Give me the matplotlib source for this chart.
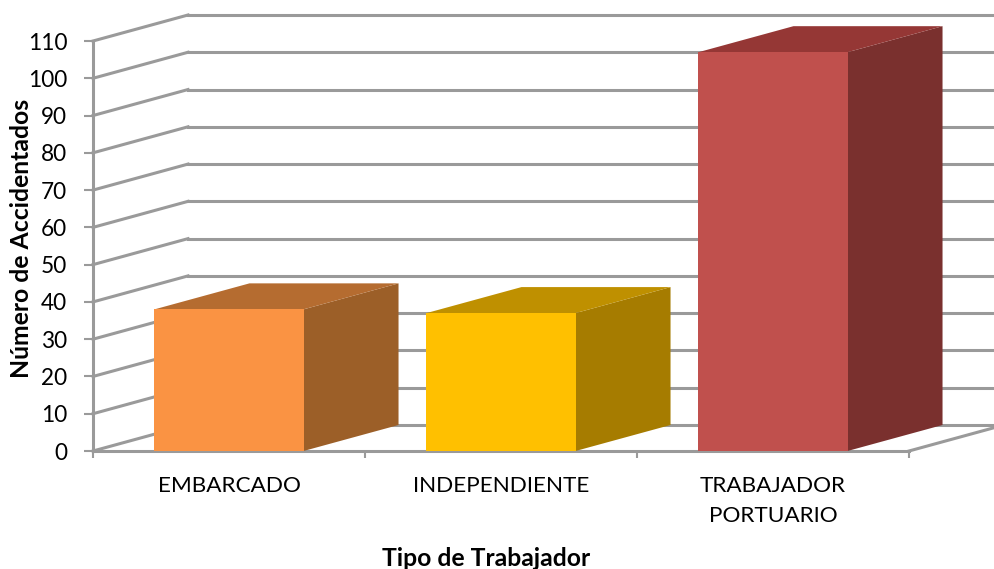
"""Fake-3D column chart of accident counts by worker type."""

import matplotlib
matplotlib.use("Agg")
import matplotlib.pyplot as plt
from matplotlib.patches import Polygon

categories = ["EMBARCADO", "INDEPENDIENTE", "TRABAJADOR\nPORTUARIO"]
values = [38, 37, 107]
y_ticks = list(range(0, 111, 10))
front_colors = ["#FA9343", "#FFC000", "#C0504D"]
top_colors = ["#B56C30", "#BF9000", "#953735"]
side_colors = ["#9C5F28", "#A67C00", "#7A302E"]

GRID = "#9A9A9A"
BAR_WIDTH = 0.548
DEPTH_X = 95 / 272  # category units
DEPTH_Y = 26 / 3.727  # value units

plt.rcParams["font.family"] = ["Lato", "DejaVu Sans"]

W, H = 994, 569
fig = plt.figure(figsize=(W / 100, H / 100), dpi=100)
ax = fig.add_axes([93 / W, 1 - 451 / H, 816 / W, 410 / H])
ax.set_xlim(0, 3)
ax.set_ylim(0, 110)
ax.patch.set_visible(False)

# back wall lines and their receding part on the side wall
for v in y_ticks:
    ax.plot([0, DEPTH_X], [v, v + DEPTH_Y], color=GRID, lw=2.2, clip_on=False, zorder=1)
    ax.plot([DEPTH_X, 3 + DEPTH_X], [v + DEPTH_Y, v + DEPTH_Y], color=GRID, lw=2.2,
            clip_on=False, zorder=1)
ax.plot([3, 3 + DEPTH_X], [0, DEPTH_Y], color=GRID, lw=2.2, clip_on=False, zorder=1)

for i, v in enumerate(values):
    x0 = i + 0.5 - BAR_WIDTH / 2
    x1 = i + 0.5 + BAR_WIDTH / 2
    front = [(x0, 0), (x1, 0), (x1, v), (x0, v)]
    top = [(x0, v), (x1, v), (x1 + DEPTH_X, v + DEPTH_Y), (x0 + DEPTH_X, v + DEPTH_Y)]
    side = [(x1, 0), (x1 + DEPTH_X, DEPTH_Y), (x1 + DEPTH_X, v + DEPTH_Y), (x1, v)]
    ax.add_patch(Polygon(side, color=side_colors[i], lw=0, clip_on=False, zorder=3))
    ax.add_patch(Polygon(top, color=top_colors[i], lw=0, clip_on=False, zorder=3))
    ax.add_patch(Polygon(front, color=front_colors[i], lw=0, clip_on=False, zorder=4))

for side in ["top", "right"]:
    ax.spines[side].set_visible(False)
for side in ["left", "bottom"]:
    ax.spines[side].set_color(GRID)
    ax.spines[side].set_linewidth(2.2)
    ax.spines[side].set_zorder(2)

ax.set_yticks(y_ticks)
ax.set_xticks([0, 1, 2, 3])
ax.set_xticklabels([])
ax.set_xticks([0.5, 1.5, 2.5], minor=True)
ax.set_xticklabels(categories, minor=True, linespacing=1.62)
ax.tick_params(axis="y", length=6.5, width=1.5, color=GRID, labelsize=16.3, pad=12, labelcolor="black")
ax.tick_params(axis="x", which="major", length=5, width=1.5, color=GRID)
ax.tick_params(axis="x", which="minor", length=0, labelsize=16.2, pad=18, labelcolor="black")

fig.text(22 / W, 1 - 238 / H, "Número de Accidentados", rotation=90, fontsize=17.8,
         fontweight="bold", ha="center", va="center")
fig.text(486 / W, 1 - 558 / H, "Tipo de Trabajador", fontsize=17.8,
         fontweight="bold", ha="center", va="center")

fig.savefig("out.png", dpi=100)
plt.close(fig)
